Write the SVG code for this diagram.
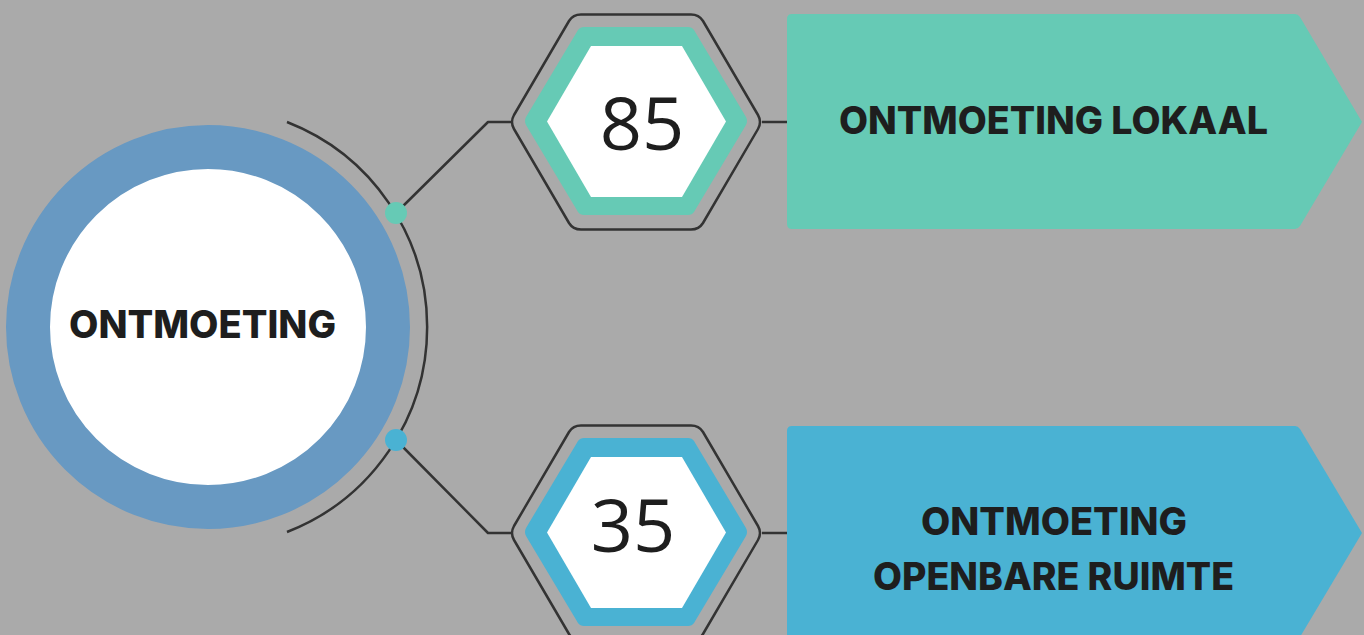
<svg xmlns="http://www.w3.org/2000/svg" width="1364" height="635" viewBox="0 0 1364 635">
<defs>
<style>
.bg{fill:#aaaaaa}
.line{fill:none;stroke:#333333;stroke-width:2.5;stroke-linejoin:round}
.white{fill:#ffffff}
.teal{fill:#66cab5}
.blue{fill:#4ab2d3}
.ring{fill:none;stroke:#6899c2;stroke-width:44}
.num{font-family:"Open Sans","Liberation Sans",sans-serif;font-size:74px;fill:#1e1e1e;text-anchor:middle}
.lbl{font-family:Inter,"Liberation Sans",sans-serif;font-weight:800;font-size:38px;fill:#1e1e1e;text-anchor:middle}
</style>
</defs>
<rect class="bg" x="0" y="0" width="1364" height="635"/>

<g id="connectors">
<path class="line" d="M287,122 A220,220 0 0 1 287,532"/>
<path class="line" d="M396,213 L488,122 L511,122"/>
<path class="line" d="M762,122 L787,122"/>
<path class="line" d="M396,440 L488,533 L511,533"/>
<path class="line" d="M762,533 L787,533"/>
<circle class="teal" cx="396" cy="213" r="11"/>
<circle class="blue" cx="396" cy="440" r="11"/>
</g>

<g id="center">
<circle class="white" cx="208" cy="327" r="160"/>
<circle class="ring" cx="208" cy="327" r="180"/>
<text class="lbl" x="202.5" y="338" textLength="267" lengthAdjust="spacingAndGlyphs">ONTMOETING</text>
</g>

<g id="hex85">
<path class="line" d="M514,115 L569,21 Q573,14.5 581,14.5 L691,14.5 Q699,14.5 703,21 L758,115 Q762,122 758,129 L703,223 Q699,229.5 691,229.5 L581,229.5 Q573,229.5 569,223 L514,129 Q510,122 514,115 Z"/>
<path class="teal" d="M526,117 L578,30 Q580,27 584,27 L688,27 Q692,27 694,30 L746,117 Q748,121 746,125 L694,212 Q692,215 688,215 L584,215 Q580,215 578,212 L526,125 Q524,121 526,117 Z"/>
<polygon class="white" points="547,121.5 591,46 682,46 726,121.5 682,197 591,197"/>
<text class="num" x="642" y="150">85</text>
</g>

<g id="hex35">
<path class="line" d="M514,526 L569,432 Q573,425.5 581,425.5 L691,425.5 Q699,425.5 703,432 L758,526 Q762,533 758,540 L703,634 Q699,640.5 691,640.5 L581,640.5 Q573,640.5 569,634 L514,540 Q510,533 514,526 Z"/>
<path class="blue" d="M526,528 L578,441 Q580,438 584,438 L688,438 Q692,438 694,441 L746,528 Q748,532 746,536 L694,623 Q692,626 688,626 L584,626 Q580,626 578,623 L526,536 Q524,532 526,528 Z"/>
<polygon class="white" points="547,532.5 591,457 682,457 726,532.5 682,608 591,608"/>
<text class="num" x="633" y="552">35</text>
</g>

<g id="box-lokaal">
<path class="teal" d="M792,14 L1295,14 Q1298,14 1300,17 L1362,122 L1300,226 Q1298,229 1295,229 L792,229 Q787,229 787,224 L787,19 Q787,14 792,14 Z"/>
<text class="lbl" x="1053.5" y="134" textLength="429" lengthAdjust="spacingAndGlyphs">ONTMOETING LOKAAL</text>
</g>

<g id="box-openbare">
<path class="blue" d="M792,426 L1295,426 Q1298,426 1300,429 L1362,533 L1300,637 L787,637 L787,431 Q787,426 792,426 Z"/>
<text class="lbl" x="1054" y="535" textLength="266" lengthAdjust="spacingAndGlyphs">ONTMOETING</text>
<text class="lbl" x="1053.5" y="590" textLength="361" lengthAdjust="spacingAndGlyphs">OPENBARE RUIMTE</text>
</g>
</svg>
